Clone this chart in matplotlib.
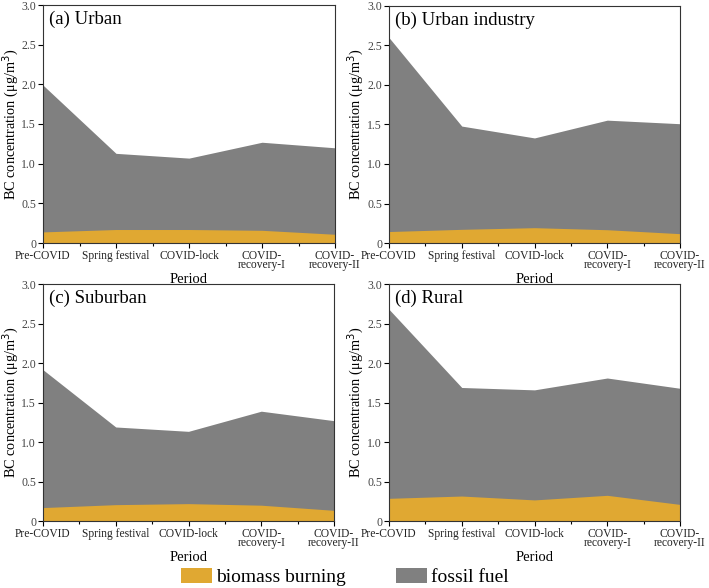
import matplotlib
matplotlib.use("Agg")
import matplotlib.pyplot as plt
from matplotlib.patches import Patch
from matplotlib.ticker import FixedLocator

plt.rcParams['font.family'] = ['Liberation Serif', 'DejaVu Serif']

periods = ["Pre-COVID", "Spring festival", "COVID-lock", "COVID-\nrecovery-I", "COVID-\nrecovery-II"]
titles = ["(a) Urban", "(b) Urban industry", "(c) Suburban", "(d) Rural"]

urban_total = [1.99, 1.13, 1.07, 1.27, 1.20]
urban_bb = [0.14, 0.17, 0.17, 0.16, 0.11]
industry_total = [2.60, 1.48, 1.33, 1.555, 1.51]
industry_bb = [0.145, 0.173, 0.194, 0.168, 0.118]
suburban_total = [1.915, 1.19, 1.135, 1.39, 1.27]
suburban_bb = [0.17, 0.207, 0.22, 0.20, 0.135]
rural_total = [2.68, 1.69, 1.66, 1.81, 1.68]
rural_bb = [0.287, 0.316, 0.267, 0.325, 0.21]

totals = [urban_total, industry_total, suburban_total, rural_total]
bbs = [urban_bb, industry_bb, suburban_bb, rural_bb]

c_bb = "#E0A832"
c_ff = "#808080"

fig = plt.figure(figsize=(7.09, 5.88), dpi=100)
W, H = 709, 588
boxes = [(43, 335, 5, 243), (389, 680, 6, 243), (43, 334, 284, 521), (389, 680, 284, 521)]
ylab_x = [11, 356, 11, 356]

x = list(range(len(periods)))
for i, (l, r, t, b) in enumerate(boxes):
    ax = fig.add_axes([l / W, 1 - b / H, (r - l) / W, (b - t) / H])
    tot = totals[i]
    bb = bbs[i]
    ax.fill_between(x, 0, tot, color=c_ff, lw=0)
    ax.fill_between(x, 0, bb, color=c_bb, lw=0)
    ax.set_xlim(0, 4)
    ax.set_ylim(0, 3.0)
    ax.set_xticks(x)
    ax.set_xticklabels(periods, fontsize=8.3, linespacing=0.72)
    ax.xaxis.set_minor_locator(FixedLocator([0.5, 1.5, 2.5, 3.5]))
    ax.set_yticks([0, 0.5, 1.0, 1.5, 2.0, 2.5, 3.0])
    ax.set_yticklabels(["0", "0.5", "1.0", "1.5", "2.0", "2.5", "3.0"], fontsize=8.5, color="#444444")
    for lab in ax.get_xticklabels():
        lab.set_color("#222222")
    ax.tick_params(axis='both', which='major', direction='out', length=3.5, width=0.8, pad=1.5)
    ax.tick_params(axis='x', which='minor', direction='out', length=2.5, width=0.8)
    ax.set_xlabel("Period", fontsize=10.5, labelpad=1)
    ax.set_ylabel("BC concentration (μg/m$^3$)", fontsize=10.3, va='center')
    ax.yaxis.set_label_coords((ylab_x[i] - l) / (r - l), 0.5)
    for s in ax.spines.values():
        s.set_linewidth(0.8)
        s.set_color("#333333")
    ax.text(0.02, 0.975, titles[i], transform=ax.transAxes, fontsize=13.5, va='top', ha='left')

handles = [Patch(facecolor=c_bb, label="biomass burning"), Patch(facecolor=c_ff, label="fossil fuel")]
fig.legend(handles=handles, loc='center', bbox_to_anchor=(345 / W, 1 - 577 / H), ncol=2, frameon=False,
           fontsize=14, handlelength=1.6, handleheight=0.8, handletextpad=0.2, columnspacing=2.6,
           borderaxespad=0, borderpad=0)

fig.savefig("out.png", dpi=100)
